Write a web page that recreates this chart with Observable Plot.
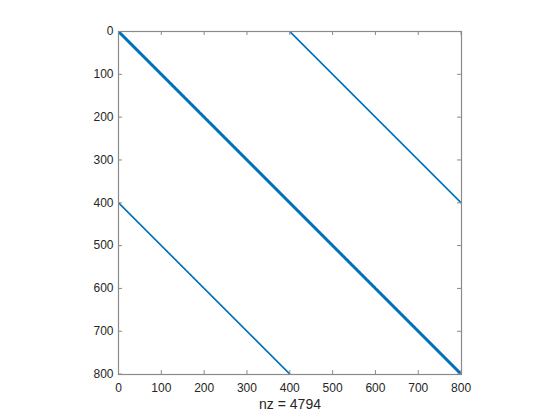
<!DOCTYPE html>
<html><head><meta charset="utf-8">
<script src="https://cdn.jsdelivr.net/npm/d3@7"></script>
<script src="https://cdn.jsdelivr.net/npm/@observablehq/plot@0.6"></script>
<style>body{margin:0;background:#fff;} svg{display:block;}</style>
</head><body><div id="chart"></div>
<script>
// 800x800 sparse matrix: pentadiagonal band plus two far off-diagonals
const n = 800;
const diagonalOffsets = [-400, -2, -1, 0, 1, 2, 400];
const xTicks = [0, 100, 200, 300, 400, 500, 600, 700, 800];
const yTicks = [0, 100, 200, 300, 400, 500, 600, 700, 800];

const entries = [];
for (const k of diagonalOffsets) {
  for (let i = 1; i <= n; i++) {
    const j = i + k;
    if (j >= 1 && j <= n) entries.push({row: i, col: j});
  }
}
const nzLabel = [`nz = ${entries.length}`];

const W = 560, H = 420, mL = 118, mR = 99, mT = 31, mB = 46;
const innerW = W - mL - mR, innerH = H - mT - mB;
const tickLen = 4;

const axisGray = "#8a8a8a";
const textColor = "#262626";
const font = "Liberation Sans, Arial, Helvetica, sans-serif";

const chart = Plot.plot({
  width: W,
  height: H,
  marginLeft: mL,
  marginRight: mR,
  marginTop: mT,
  marginBottom: mB,
  style: {fontFamily: font, color: textColor, background: "#fff"},
  x: {domain: [0, n + 1], axis: null},
  y: {domain: [0, n + 1], reverse: true, axis: null},
  marks: [
    Plot.dot(entries, {x: "col", y: "row", r: 0.8, fill: "#0072BD", stroke: null}),
    // inward tick marks on all four sides
    Plot.tickX(xTicks, {x: d => d, insetTop: innerH - tickLen, stroke: axisGray}),
    Plot.tickX(xTicks, {x: d => d, insetBottom: innerH - tickLen, stroke: axisGray}),
    Plot.tickY(yTicks, {y: d => d, insetRight: innerW - tickLen, stroke: axisGray}),
    Plot.tickY(yTicks, {y: d => d, insetLeft: innerW - tickLen, stroke: axisGray}),
    Plot.frame({stroke: axisGray, strokeWidth: 1.2}),
    Plot.axisX(xTicks, {anchor: "bottom", tickSize: 0, tickPadding: 9, fill: textColor, fontSize: 12, label: null}),
    Plot.axisY(yTicks, {anchor: "left", tickSize: 0, tickPadding: 5, fill: textColor, fontSize: 12, label: null}),
    Plot.text(nzLabel, {text: d => d, frameAnchor: "bottom", dy: 30.5, lineAnchor: "middle", fontSize: 14, fill: textColor})
  ]
});
document.getElementById("chart").appendChild(chart);
</script>
</body></html>
